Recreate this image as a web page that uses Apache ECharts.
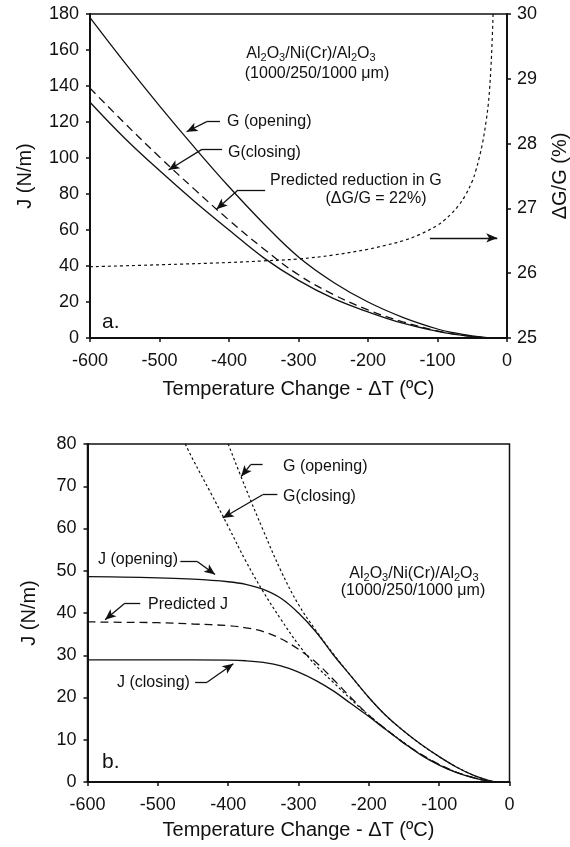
<!DOCTYPE html>
<html>
<head>
<meta charset="utf-8">
<script src="https://cdn.jsdelivr.net/npm/echarts@6/dist/echarts.min.js"></script>
<style>
  html, body { margin: 0; padding: 0; background: #fff; }
  #chart { width: 570px; height: 847px; }
</style>
</head>
<body>
<div id="chart"></div>
<script>
// ---- data ----
// panel a: G against temperature change
var xTop = [-600, -550, -500, -450, -400, -350, -300, -250, -200, -150, -100, -75, -50, -25];
var gOpeningTop = [178, 153, 129, 106, 84, 63.5, 45, 31, 20, 11.5, 5, 2.8, 1.2, 0];
var gClosingTop = [131, 111, 93, 76, 60, 44.5, 32, 22, 14.5, 8.2, 3.7, 2, 0.8, 0];
var gPredictedTop = [138.8, 119.3, 100.6, 82.7, 65.5, 49.5, 35.1, 24.2, 15.6, 9, 3.9, 2.2, 0.9, 0];

// panel a: dG/G (right axis)
var xRatio = [-600, -500, -400, -350, -300, -250, -200, -175, -150, -125, -100, -90, -80, -70, -60, -50, -45, -40, -35, -30, -27, -25, -23, -21.5, -20];
var ratioVals = [26.10, 26.13, 26.165, 26.19, 26.22, 26.28, 26.37, 26.43, 26.5, 26.6, 26.74, 26.82, 26.92, 27.04, 27.2, 27.42, 27.58, 27.78, 28.02, 28.35, 28.6, 28.85, 29.2, 29.55, 30];

// panel b: J curves
var xBot = [-600, -550, -500, -450, -400, -375, -350, -325, -300, -275, -250, -225, -200, -175, -150, -125, -100, -75, -50, -30, -20];
var jOpening = [48.6, 48.5, 48.3, 48, 47.4, 46.8, 45.6, 43.5, 40, 35.5, 30, 25, 20, 15.6, 12, 8.8, 6, 3.5, 1.5, 0.4, 0];
var jPredicted = [37.9, 37.8, 37.7, 37.4, 37, 36.5, 35.6, 33.9, 31.4, 28.3, 24.2, 19.9, 15.8, 12.4, 9.2, 6.5, 4.2, 2.3, 1, 0.2, 0];
var jClosing = [28.9, 28.9, 28.9, 28.9, 28.85, 28.7, 28.3, 27.5, 26, 24, 21.5, 18.5, 15.5, 12.3, 9.2, 6.3, 4, 2.2, 0.9, 0.2, 0];

// panel b: G curves (run off the top of the plot)
var xGOpenBot = [-400, -375, -350, -325, -300, -275, -250, -225, -200, -175, -150, -125, -100, -75, -50, -30, -20];
var gOpeningBot = [80, 69.5, 59.5, 50, 42, 35.8, 30.2, 25, 20, 15.6, 12, 8.8, 6, 3.5, 1.5, 0.4, 0];
var xGCloseBot = [-461, -450, -425, -400, -375, -350, -325, -300, -275, -250, -225, -200, -175, -150, -125, -100, -75, -50, -30, -20];
var gClosingBot = [80, 76.3, 68.5, 60.5, 52.3, 45, 38.5, 32.5, 27.5, 23.5, 19.5, 15.8, 12.4, 9.3, 6.4, 4.1, 2.3, 1, 0.2, 0];

function pairs(xs, ys) {
  return xs.map(function (x, i) { return [x, ys[i]]; });
}

var FONT = '"Liberation Sans", Arial, Helvetica, sans-serif';
var INK = '#111';

function xAxisFor(grid, gap) {
  return {
    gridIndex: grid, type: 'value', min: -600, max: 0, interval: 100,
    axisLine: { show: true, onZero: false, lineStyle: { color: INK, width: 2 } },
    axisTick: { show: true, length: 4, lineStyle: { color: INK, width: 1.5 } },
    axisLabel: { color: INK, fontSize: 18, fontFamily: FONT, margin: 14 },
    splitLine: { show: false },
    name: 'Temperature Change - ΔT (ºC)', nameLocation: 'middle', nameGap: gap,
    nameTextStyle: { color: INK, fontSize: 20, fontFamily: FONT }
  };
}

function yAxisFor(grid, min, max, step, name, gap, pos) {
  return {
    gridIndex: grid, type: 'value', min: min, max: max, interval: step, position: pos,
    axisLine: { show: true, onZero: false, lineStyle: { color: INK, width: 2 } },
    axisTick: { show: true, length: 4, lineStyle: { color: INK, width: 1.5 } },
    axisLabel: { color: INK, fontSize: 18, fontFamily: FONT, margin: pos === 'right' ? 10 : 11 },
    splitLine: { show: false },
    name: name, nameLocation: 'middle', nameGap: gap, nameRotate: 90,
    nameTextStyle: { color: INK, fontSize: 20, fontFamily: FONT }
  };
}

function curve(name, xi, yi, data, dash, width) {
  return {
    name: name, type: 'line', xAxisIndex: xi, yAxisIndex: yi,
    data: data, showSymbol: false, smooth: 0.4,
    lineStyle: { color: INK, width: width || 1.3, type: dash || 'solid' },
    silent: true
  };
}

// arrow = short horizontal lead + slanted shaft with a head
function arrow(p0, p1, tip) {
  return [
    [{ coord: p0, symbol: 'none' }, { coord: p1, symbol: 'none' }],
    [{ coord: p1, symbol: 'none' }, { coord: tip, symbol: 'arrow', symbolSize: [7, 11] }]
  ];
}

function markLines(list) {
  var data = [];
  list.forEach(function (a) { data = data.concat(a); });
  return {
    silent: true, animation: false,
    label: { show: false },
    lineStyle: { color: INK, width: 1.3, type: 'solid' },
    data: data
  };
}

var sub = { s: { fontSize: 11, fontFamily: FONT, padding: [8, 0, 0, 0] } };

function note(x, y, text, align, size, rich) {
  return {
    type: 'text', x: x, y: y, silent: true,
    style: {
      text: text, fill: INK, font: (size || 16) + 'px ' + FONT,
      align: align || 'left', verticalAlign: 'middle', rich: rich
    }
  };
}

var gOpenTopSeries = curve('G (opening)', 0, 0, pairs(xTop, gOpeningTop));
gOpenTopSeries.markLine = markLines([
  arrow([-413, 120.2], [-432, 120.2], [-461, 114.6]),
  arrow([-410, 104.8], [-439, 104.8], [-487, 93.3]),
  arrow([-348, 82.2], [-387, 82.2], [-418, 71.5]),
  [[{ coord: [-111, 55.6], symbol: 'none' }, { coord: [-14, 55.6], symbol: 'arrow', symbolSize: [7, 11] }]]
]);

var jOpenSeries = curve('J (opening)', 1, 2, pairs(xBot, jOpening));
jOpenSeries.markLine = markLines([
  arrow([-351, 75.1], [-368, 75.1], [-381.6, 72.3]),
  arrow([-330, 68.0], [-351, 68.0], [-407.7, 62.5]),
  arrow([-468, 52.2], [-444, 52.2], [-418.6, 49.1]),
  arrow([-525, 42.3], [-547, 42.3], [-575, 38.4]),
  arrow([-447, 23.6], [-430, 23.6], [-392.6, 28.0])
]);

var chart = echarts.init(document.getElementById('chart'), null, { renderer: 'canvas' });

chart.setOption({
  animation: false,
  backgroundColor: '#fff',
  textStyle: { fontFamily: FONT },
  grid: [
    { left: 90, right: 63, top: 14, height: 324, show: true, borderColor: INK, borderWidth: 1.5, outerBoundsMode: 'none' },
    { left: 87.5, right: 60.5, top: 444, height: 338, show: true, borderColor: INK, borderWidth: 1.5, outerBoundsMode: 'none' }
  ],
  xAxis: [xAxisFor(0, 41), xAxisFor(1, 38)],
  yAxis: [
    yAxisFor(0, 0, 180, 20, 'J (N/m)', 55, 'left'),
    yAxisFor(0, 25, 30, 1, 'ΔG/G (%)', 43, 'right'),
    yAxisFor(1, 0, 80, 10, 'J (N/m)', 48, 'left')
  ],
  series: [
    gOpenTopSeries,
    curve('G (closing)', 0, 0, pairs(xTop, gClosingTop)),
    curve('Predicted G', 0, 0, pairs(xTop, gPredictedTop), [8, 5]),
    curve('ΔG/G', 0, 1, pairs(xRatio, ratioVals), [3, 3], 1.2),
    jOpenSeries,
    curve('Predicted J', 1, 2, pairs(xBot, jPredicted), [8, 5]),
    curve('J (closing)', 1, 2, pairs(xBot, jClosing)),
    curve('G (opening) b', 1, 2, pairs(xGOpenBot, gOpeningBot), [2.5, 2.5], 1.2),
    curve('G (closing) b', 1, 2, pairs(xGCloseBot, gClosingBot), [2.5, 2.5], 1.2)
  ],
  graphic: [
    note(311, 54, 'Al{s|2}O{s|3}/Ni(Cr)/Al{s|2}O{s|3}', 'center', 16, sub),
    note(317, 74, '(1000/250/1000 μm)', 'center'),
    note(227, 122, 'G (opening)'),
    note(228, 153, 'G(closing)'),
    note(270, 181, 'Predicted reduction in G'),
    note(376, 199, '(ΔG/G = 22%)', 'center'),
    note(102, 322, 'a.', 'left', 21),
    note(414, 574, 'Al{s|2}O{s|3}/Ni(Cr)/Al{s|2}O{s|3}', 'center', 16, sub),
    note(413, 591, '(1000/250/1000 μm)', 'center'),
    note(283, 467, 'G (opening)'),
    note(283, 497, 'G(closing)'),
    note(98, 560, 'J (opening)'),
    note(148, 605, 'Predicted J'),
    note(117, 683, 'J (closing)'),
    note(102, 762, 'b.', 'left', 21)
  ]
});
</script>
</body>
</html>
